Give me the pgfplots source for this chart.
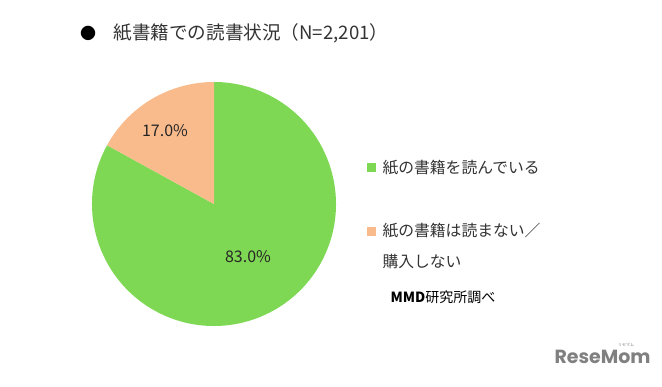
\documentclass[border=0pt]{standalone}
\usepackage{pgfplots}
\pgfplotsset{compat=1.18}
\usepackage{pgfplotstable}
\usepackage{fontspec}
\setmainfont{Noto Sans CJK JP}
\newfontfamily\logofont{Poppins}
\definecolor{pgreen}{RGB}{127,216,84}
\definecolor{porange}{RGB}{250,187,140}
\definecolor{txt}{RGB}{51,51,51}
\definecolor{logo}{RGB}{128,128,128}

\pgfplotstableread{
label value
read 83.0
noread 17.0
}\piedata

\begin{document}
\begin{tikzpicture}
\pgfplotstablegetelem{1}{value}\of\piedata
\pgfmathsetmacro{\angB}{90+3.6*\pgfplotsretval}
\begin{axis}[width=662bp,height=387bp,scale only axis,
  xmin=0,xmax=662,ymin=0,ymax=387,y dir=reverse,hide axis,clip=false]
\path (axis cs:0,0) (axis cs:662,387);
% pie, centre (214,204), radius 122
\fill[pgreen] (axis cs:214,204) -- ++(\angB:122bp) arc[start angle=\angB, end angle=450, radius=122bp] -- cycle;
\fill[porange] (axis cs:214,204) -- ++(90:122bp) arc[start angle=90, end angle=\angB, radius=122bp] -- cycle;
\node[font=\fontsize{16bp}{18bp}\selectfont, text=black!85] at (axis cs:165,131) {17.0\%};
\node[font=\fontsize{16bp}{18bp}\selectfont, text=black!85] at (axis cs:248,257) {83.0\%};
% title
\node[font=\fontsize{16bp}{18bp}\selectfont, text=black] at (axis cs:88,33) {●};
\node[anchor=west, font=\fontsize{18.6bp}{20bp}\selectfont, text=txt] at (axis cs:110,33) {紙書籍での読書状況（N=2,201）};
% legend
\fill[pgreen] (axis cs:367,163) rectangle (axis cs:376,172);
\node[anchor=west, font=\fontsize{15.8bp}{18bp}\selectfont, text=txt] at (axis cs:379,168) {紙の書籍を読んでいる};
\fill[porange] (axis cs:367,227) rectangle (axis cs:376,236);
\node[anchor=west, font=\fontsize{15.8bp}{18bp}\selectfont, text=txt] at (axis cs:379,231) {紙の書籍は読まない／};
\node[anchor=west, font=\fontsize{15.8bp}{18bp}\selectfont, text=txt] at (axis cs:379,262) {購入しない};
\node[anchor=west, font=\fontsize{14bp}{16bp}\selectfont, text=black] at (axis cs:387,297) {\textbf{MMD}研究所調べ};
% watermark
\node[anchor=west, font=\logofont\bfseries\fontsize{19bp}{22bp}\selectfont, text=logo] at (axis cs:551,357) {ReseMom};
\node[font=\fontsize{4bp}{5bp}\selectfont, text=logo] at (axis cs:626,345) {リセマム};
\end{axis}
\end{tikzpicture}
\end{document}
